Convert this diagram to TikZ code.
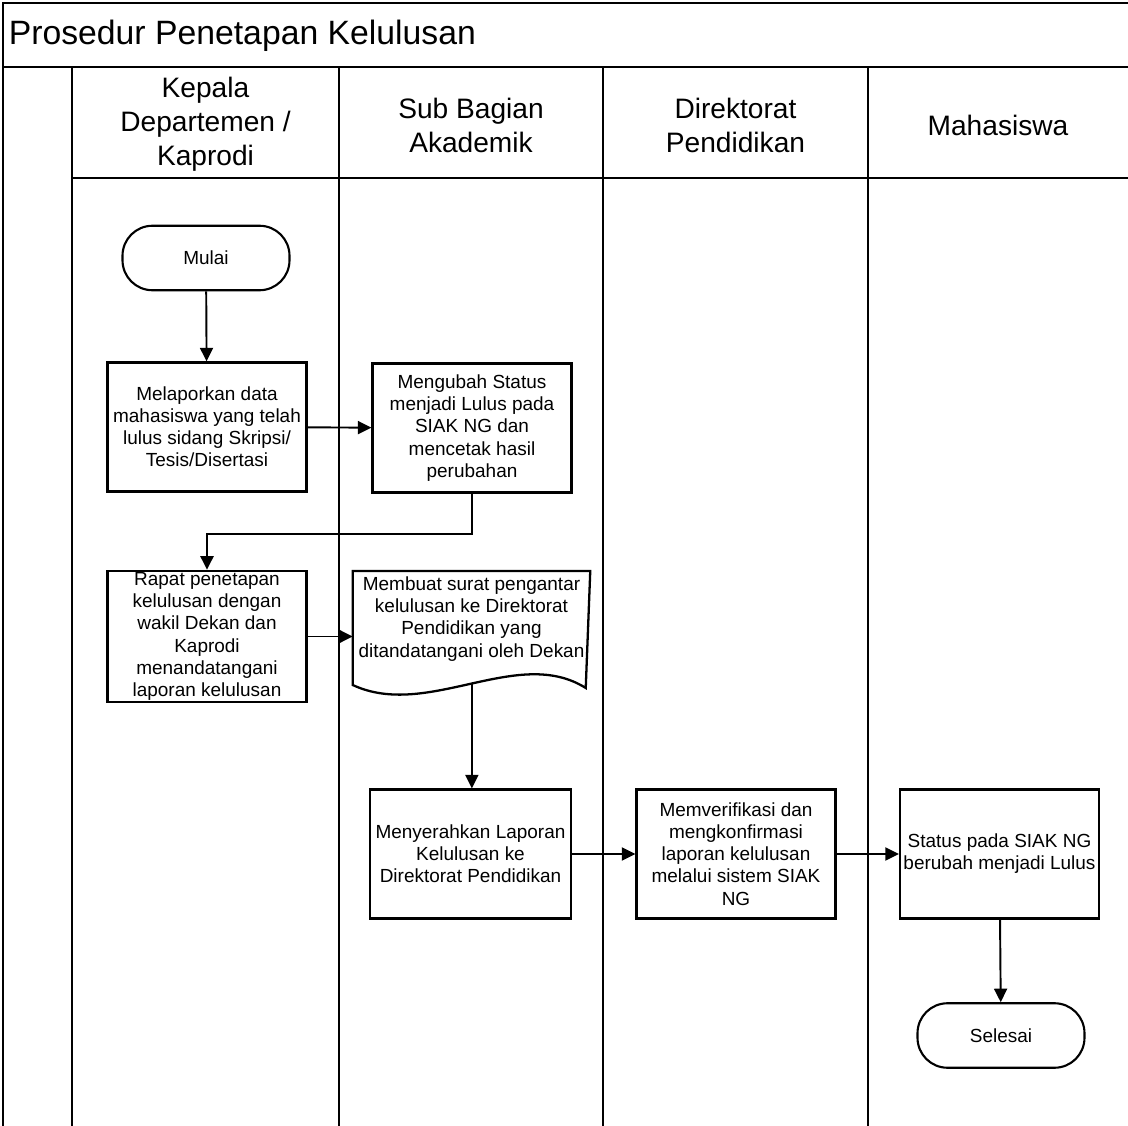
\documentclass[tikz,border=0pt]{standalone}
\usepackage{fontspec}
\setmainfont{Liberation Sans}
\usepackage{tikz}
\usetikzlibrary{arrows.meta, positioning, calc}

\begin{document}
\begin{tikzpicture}[
  font=\fontsize{10.8}{12.6}\selectfont,
  lane/.style={line width=1.1pt},
  frame/.style={line width=1.3pt},
  lanehead/.style={align=center, font=\fontsize{16}{19.3}\selectfont},
  proc/.style={draw, line width=1.3pt, minimum width=3.98cm, minimum height=2.58cm,
               align=center, inner sep=1pt},
  term/.style={draw, line width=1.2pt, rounded corners=0.6cm, minimum width=3.34cm,
               minimum height=1.29cm, align=center},
  flow/.style={-{Triangle[length=2.7mm, width=2.6mm]}, line width=1.1pt},
]
\clip (0,0) rectangle (22.56,-22.52);

% Swimlane frame
\draw[frame] (0.06,-22.6) -- (0.06,-0.06) -- (22.7,-0.06);
\draw[frame] (0.06,-1.34) -- (22.7,-1.34);
\draw[lane] (1.44,-3.56) -- (22.7,-3.56);
\foreach \x in {1.44, 6.78, 12.06, 17.36}
  \draw[lane] (\x,-1.34) -- (\x,-22.6);

% Title and lane headers
\node[anchor=west, inner sep=0pt, font=\fontsize{19.2}{23}\selectfont] (judul)
  at (0.17,-0.72) {Prosedur Penetapan Kelulusan};
\node[lanehead] (kaprodi)   at ( 4.11,-2.48) {Kepala\\Departemen /\\Kaprodi};
\node[lanehead] (subbag)    at ( 9.42,-2.50) {Sub Bagian\\Akademik};
\node[lanehead] (direktorat) at (14.71,-2.50) {Direktorat\\Pendidikan};
\node[lanehead] (mhs)       at (19.96,-2.50) {Mahasiswa};

% Steps
\node[term] (mulai) at (4.12,-5.16) {Mulai};
\node[proc] (lapor) at (4.14,-8.54)
  {Melaporkan data\\mahasiswa yang telah\\lulus sidang Skripsi/\\Tesis/Disertasi};
\node[proc] (ubah) at (9.44,-8.56)
  {Mengubah Status\\menjadi Lulus pada\\SIAK NG dan\\mencetak hasil\\perubahan};
\node[proc] (rapat) at (4.14,-12.73)
  {Rapat penetapan\\kelulusan dengan\\wakil Dekan dan\\Kaprodi\\menandatangani\\laporan kelulusan};
\node[anchor=north, minimum width=4.66cm, inner sep=0.11cm, align=center] (surat)
  at (9.43,-11.42)
  {Membuat surat pengantar\\kelulusan ke Direktorat\\Pendidikan yang\\ditandatangani oleh Dekan};
\node[proc, minimum width=4.02cm] (serah) at (9.41,-17.08)
  {Menyerahkan Laporan\\Kelulusan ke\\Direktorat Pendidikan};
\node[proc] (verif) at (14.72,-17.08)
  {Memverifikasi dan\\mengkonfirmasi\\laporan kelulusan\\melalui sistem SIAK\\NG};
\node[proc] (status) at (19.99,-17.08)
  {Status pada SIAK NG\\berubah menjadi Lulus};
\node[term] (selesai) at (20.02,-20.71) {Selesai};

% Document outline of the letter
\draw[line width=1.3pt] ($(surat.north west)+(0,-2.28)$) -- (surat.north west)
  -- (surat.north east) -- ($(surat.north west)+(4.66,-2.34)$)
  .. controls ($(surat.north west)+(3.3,-1.48)$) and ($(surat.north west)+(1.5,-2.98)$)
  .. coordinate[pos=0.5] (surat-out) ($(surat.north west)+(0,-2.28)$) -- cycle;

% Flow
\draw[flow] (mulai) -- (lapor);
\draw[flow] (lapor) -- (ubah);
\draw[flow] (ubah.south) -- ++(0,-0.8) -| (rapat.north);
\draw[flow] (rapat.east) -- (surat.west |- rapat.east);
\draw[flow] (surat-out) -- (surat-out |- serah.north);
\draw[flow] (serah) -- (verif);
\draw[flow] (verif) -- (status);
\draw[flow] (status) -- (selesai);
\end{tikzpicture}
\end{document}
